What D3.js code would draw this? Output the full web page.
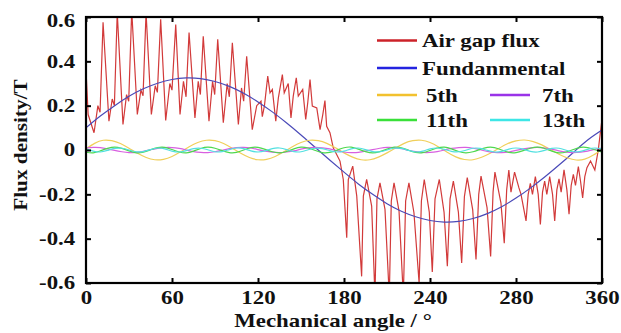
<!DOCTYPE html>
<html>
<head>
<meta charset="utf-8">
<script src="https://cdn.jsdelivr.net/npm/d3@7"></script>
<style>
body { margin: 0; background: #fff; }
text { font-family: "Liberation Serif", "Times New Roman", serif; font-weight: bold; font-size: 18px; fill: #111; }
</style>
</head>
<body>
<div id="vis"></div>
<script>
// ---- data ----
const xTicks = [0, 60, 120, 180, 240, 300, 360];
const xTickLabels = ["0", "60", "120", "180", "240", "280", "360"];   // "280" as printed in the original
const yTicks = [0.6, 0.4, 0.2, 0, -0.2, -0.4, -0.6];
const yTickLabels = ["0.6", "0.4", "0.2", "0", "-0.2", "-0.4", "-0.6"];

// air gap flux [angle, B]
const airGapFlux = [
  [0,0.36],[1.5,0.16],[5.6,0.078],[8.3,0.20],[9.8,0.17],[11.9,0.576],
  [16,0.13],[18.3,0.23],[19.8,0.20],[21.8,0.62],
  [25.8,0.115],[28.3,0.25],[29.8,0.22],[31.9,0.63],
  [35.8,0.16],[38.3,0.27],[39.8,0.245],[41.9,0.62],
  [45.6,0.16],[48.3,0.29],[49.8,0.26],[52.1,0.59],
  [55.6,0.133],[58.5,0.30],[60,0.27],[62.6,0.566],
  [65.6,0.16],[68,0.31],[69.8,0.24],[71.9,0.53],
  [76,0.145],[78.3,0.31],[79.8,0.25],[81.8,0.513],
  [85.8,0.13],[88.3,0.31],[89.8,0.25],[91.9,0.50],
  [95.8,0.123],[98.5,0.30],[100,0.24],[102.1,0.484],
  [106.3,0.115],[108.5,0.28],[110,0.22],[112.1,0.423],
  [116,0.092],[119.1,0.20],[122.1,0.22],[123,0.15],[124.5,0.20],[126.8,0.333],
  [128.4,0.258],[130,0.273],[132.4,0.13],[134.2,0.235],[137,0.34],
  [138.3,0.258],[141.1,0.30],[143,0.145],[144.6,0.243],[146.7,0.326],
  [148.1,0.243],[151.2,0.273],[153.3,0.138],[154.7,0.213],[156.3,0.318],
  [157.9,0.198],[161,0.19],[163.3,0.092],[165.2,0.16],[166.7,0.223],
  [167.9,0.107],[170.2,0.078],[172.5,0.01],[177.2,-0.05],[179.5,-0.133],
  [181.9,-0.396],[183,-0.133],[186.1,-0.073],[188.9,-0.208],
  [192.3,-0.57],[193.5,-0.208],[195.8,-0.133],[199.3,-0.253],
  [201.6,-0.66],[203,-0.22],[205.1,-0.148],[208.6,-0.268],
  [211.6,-0.66],[213,-0.23],[214.9,-0.148],[218.4,-0.276],
  [221.4,-0.66],[223,-0.23],[225.3,-0.148],[228.8,-0.283],
  [232.4,-0.60],[234,-0.23],[236,-0.133],[239.5,-0.28],
  [241.6,-0.55],[243.5,-0.22],[246.5,-0.133],[249.8,-0.28],
  [252.1,-0.524],[254,-0.22],[256.3,-0.14],[259.8,-0.28],
  [262.1,-0.51],[264,-0.21],[266,-0.125],[269.8,-0.27],
  [272.1,-0.494],[274,-0.2],[275.6,-0.118],[279.8,-0.26],
  [282.3,-0.48],[284,-0.19],[285.3,-0.10],[289.5,-0.24],
  [291.8,-0.42],[293.5,-0.18],[295,-0.09],[296.5,-0.19],[299,-0.10],[302,-0.17],[303.5,-0.2],
  [307,-0.32],[308.5,-0.2],[310,-0.15],[311.5,-0.2],[313.5,-0.12],[315.5,-0.2],
  [317,-0.336],[318.5,-0.19],[320,-0.14],[321.5,-0.2],[323.5,-0.12],[325.5,-0.2],
  [327,-0.32],[328.5,-0.18],[330,-0.13],[331.5,-0.19],[333.5,-0.09],[335.5,-0.18],
  [337,-0.29],[338.5,-0.16],[340,-0.11],[341.5,-0.16],[343.5,-0.075],[345,-0.14],
  [346.5,-0.216],[348,-0.12],[349.5,-0.08],[352,-0.05],[355,-0.09],[357.4,0.0],[360,0.14]
];

// fundamental, every 10 deg
const fundamental = [0.100,0.153,0.200,0.242,0.276,0.301,0.318,0.325,0.322,0.309,
  0.287,0.256,0.217,0.172,0.122,0.068,0.011,-0.045,-0.100,-0.153,
  -0.200,-0.242,-0.276,-0.301,-0.318,-0.325,-0.322,-0.309,-0.287,-0.256,
  -0.217,-0.172,-0.122,-0.068,-0.011,0.045,0.090];

// harmonics, every 6 deg (5th) and 5 deg (others)
const h5 = [0.005,0.030,0.044,0.042,0.029,0.008,-0.015,-0.034,-0.044,-0.042,
  -0.029,-0.008,0.015,0.034,0.044,0.042,0.029,0.008,-0.015,-0.034,
  -0.044,-0.042,-0.029,-0.008,0.015,0.034,0.044,0.042,0.030,0.010,
  -0.013,-0.032,-0.044,-0.044,-0.032,-0.013,0.009,0.030,0.042,0.044,
  0.034,0.014,-0.010,-0.031,-0.043,-0.044,-0.033,-0.015,0.007,0.028,
  0.041,0.045,0.038,0.023,0.002,-0.019,-0.036,-0.045,-0.041,-0.023,0.005];
const h7 = [0.009,0.012,0.011,0.005,-0.002,-0.008,-0.012,-0.011,-0.006,0.001,
  0.007,0.011,0.011,0.007,0.000,-0.007,-0.011,-0.012,-0.008,-0.001,
  0.006,0.011,0.012,0.009,0.002,-0.005,-0.010,-0.012,-0.009,-0.004,
  0.004,0.010,0.012,0.010,0.005,-0.003,-0.009,-0.012,-0.011,-0.005,
  0.002,0.008,0.012,0.011,0.006,-0.001,-0.007,-0.011,-0.011,-0.007,
  0.000,0.007,0.011,0.012,0.008,0.001,-0.006,-0.011,-0.012,-0.009,
  -0.002,0.005,0.010,0.012,0.009,0.004,-0.004,-0.010,-0.012,-0.010,
  -0.005,0.003,0.009];
const h11 = [-0.010,-0.013,-0.004,0.007,0.013,0.007,-0.004,-0.013,-0.010,0.001,
  0.011,0.012,0.002,-0.009,-0.013,-0.005,0.007,0.013,0.008,-0.003,
  -0.012,-0.011,0.000,0.011,0.012,0.003,-0.008,-0.013,-0.007,0.005,
  0.013,0.009,-0.002,-0.012,-0.011,-0.001,0.010,0.013,0.004,-0.007,
  -0.013,-0.007,0.004,0.013,0.010,-0.001,-0.011,-0.012,-0.002,0.009,
  0.013,0.005,-0.007,-0.013,-0.008,0.003,0.012,0.011,0.000,-0.011,
  -0.012,-0.003,0.008,0.013,0.007,-0.005,-0.013,-0.009,0.002,0.012,
  0.011,0.001,-0.010];
const h13 = [0.005,-0.005,-0.009,-0.002,0.007,0.008,0.000,-0.008,-0.007,0.002,
  0.009,0.005,-0.005,-0.009,-0.003,0.006,0.008,0.001,-0.008,-0.007,
  0.002,0.009,0.006,-0.004,-0.009,-0.004,0.006,0.009,0.002,-0.007,
  -0.008,0.001,0.008,0.006,-0.003,-0.009,-0.005,0.005,0.009,0.002,
  -0.007,-0.008,0.000,0.008,0.007,-0.002,-0.009,-0.005,0.005,0.009,
  0.003,-0.006,-0.008,-0.001,0.008,0.007,-0.002,-0.009,-0.006,0.004,
  0.009,0.004,-0.006,-0.009,-0.002,0.007,0.008,-0.001,-0.008,-0.006,
  0.003,0.009,0.005];

const seriesNames = ["Air gap flux", "Fundanmental", "5th", "7th", "11th", "13th"];
const seriesColors = ["#cc2229", "#2424e0", "#f2c12e", "#9a33e8", "#3ae03a", "#3ee6e6"];
const plotColors = ["#d23a3a", "#4a4ab8", "#f0cf5a", "#d860e0", "#4ed84e", "#52e0e0"];

// ---- layout ----
const W = 621, H = 333;
const margin = {top: 17, right: 19, bottom: 50, left: 86};
const sx = 1.27;   // the original's text is horizontally stretched

const svg = d3.select("#vis").append("svg")
    .attr("width", W)
    .attr("height", H);

svg.append("rect").attr("width", W).attr("height", H).attr("fill", "#fff");

const x = d3.scaleLinear().domain([0, 360]).range([margin.left, W - margin.right]);
const y = d3.scaleLinear().domain([-0.6, 0.6]).range([H - margin.bottom, margin.top]);

svg.append("clipPath").attr("id", "plotClip")
  .append("rect")
    .attr("x", x(0)).attr("y", y(0.6))
    .attr("width", x(360) - x(0)).attr("height", y(-0.6) - y(0.6));

const plot = svg.append("g").attr("clip-path", "url(#plotClip)");

const line = d3.line().x(d => x(d[0])).y(d => y(d[1]));
const smooth = d3.line().x(d => x(d[0])).y(d => y(d[1])).curve(d3.curveNatural);

const withStep = (arr, step) => arr.map((v, i) => [i * step, v]);

plot.append("path")
    .attr("d", line(airGapFlux))
    .attr("fill", "none").attr("stroke", plotColors[0]).attr("stroke-width", 1.2);

plot.append("path")
    .attr("d", smooth(withStep(fundamental, 10)))
    .attr("fill", "none").attr("stroke", plotColors[1]).attr("stroke-width", 1.2);

[[h5, 6], [h7, 5], [h11, 5], [h13, 5]].forEach(([arr, step], i) => {
  plot.append("path")
      .attr("d", smooth(withStep(arr, step)))
      .attr("fill", "none").attr("stroke", plotColors[i + 2]).attr("stroke-width", 1.2);
});

// ---- axes ----
const tickLen = 5;
const gx = svg.append("g")
    .attr("transform", `translate(0,${y(-0.6)})`)
    .call(d3.axisBottom(x).tickValues(xTicks)
        .tickFormat((d, i) => xTickLabels[i])
        .tickSizeInner(-tickLen).tickSizeOuter(0).tickPadding(8));

const gy = svg.append("g")
    .attr("transform", `translate(${x(0)},0)`)
    .call(d3.axisLeft(y).tickValues(yTicks)
        .tickFormat((d, i) => yTickLabels[i])
        .tickSizeInner(-tickLen).tickSizeOuter(0).tickPadding(8.5));

svg.append("g")
    .attr("transform", `translate(0,${y(0.6)})`)
    .call(d3.axisTop(x).tickValues(xTicks).tickFormat("")
        .tickSizeInner(-tickLen).tickSizeOuter(0));

svg.append("g")
    .attr("transform", `translate(${x(360)},0)`)
    .call(d3.axisRight(y).tickValues(yTicks).tickFormat("")
        .tickSizeInner(-tickLen).tickSizeOuter(0));

svg.selectAll(".domain").remove();
svg.selectAll(".tick line").attr("stroke", "#000").attr("stroke-width", 2);
svg.selectAll(".tick text")
    .attr("fill", "#111")
    .style("font-family", '"Liberation Serif", "Times New Roman", serif')
    .style("font-weight", "bold")
    .style("font-size", "18px");
gx.selectAll(".tick text").attr("transform", `scale(${sx},1)`);
gy.selectAll(".tick text").attr("transform", `scale(${sx},1)`);
// top label sits a little below its tick in the original
gy.selectAll(".tick text").filter(d => d === 0.6).attr("dy", "0.54em");

svg.append("rect")
    .attr("x", x(0)).attr("y", y(0.6))
    .attr("width", x(360) - x(0)).attr("height", y(-0.6) - y(0.6))
    .attr("fill", "none").attr("stroke", "#000").attr("stroke-width", 2.2);

// axis titles
svg.append("text")
    .attr("transform", `translate(333,${H - 6}) scale(${sx},1)`)
    .attr("text-anchor", "middle")
    .text("Mechanical angle / °");

svg.append("text")
    .attr("transform", `translate(27,${y(0) - 5}) rotate(-90) scale(1.18,1)`)
    .attr("text-anchor", "middle")
    .text("Flux density/T");

// ---- legend ----
const legendPos = [[377, 40.5], [377, 68], [377, 95], [490, 95], [377, 120], [490, 120]];
const legend = svg.append("g");
seriesNames.forEach((name, i) => {
  const [lx, ly] = legendPos[i];
  legend.append("line")
      .attr("x1", lx).attr("x2", lx + 40)
      .attr("y1", ly).attr("y2", ly)
      .attr("stroke", seriesColors[i]).attr("stroke-width", 2.5);
  legend.append("text")
      .attr("transform", `translate(${lx + (i < 2 ? 45 : 49 + (i % 2 ? 3 : 0))},${ly + 6.5}) scale(${sx},1)`)
      .text(name);
});
</script>
</body>
</html>
